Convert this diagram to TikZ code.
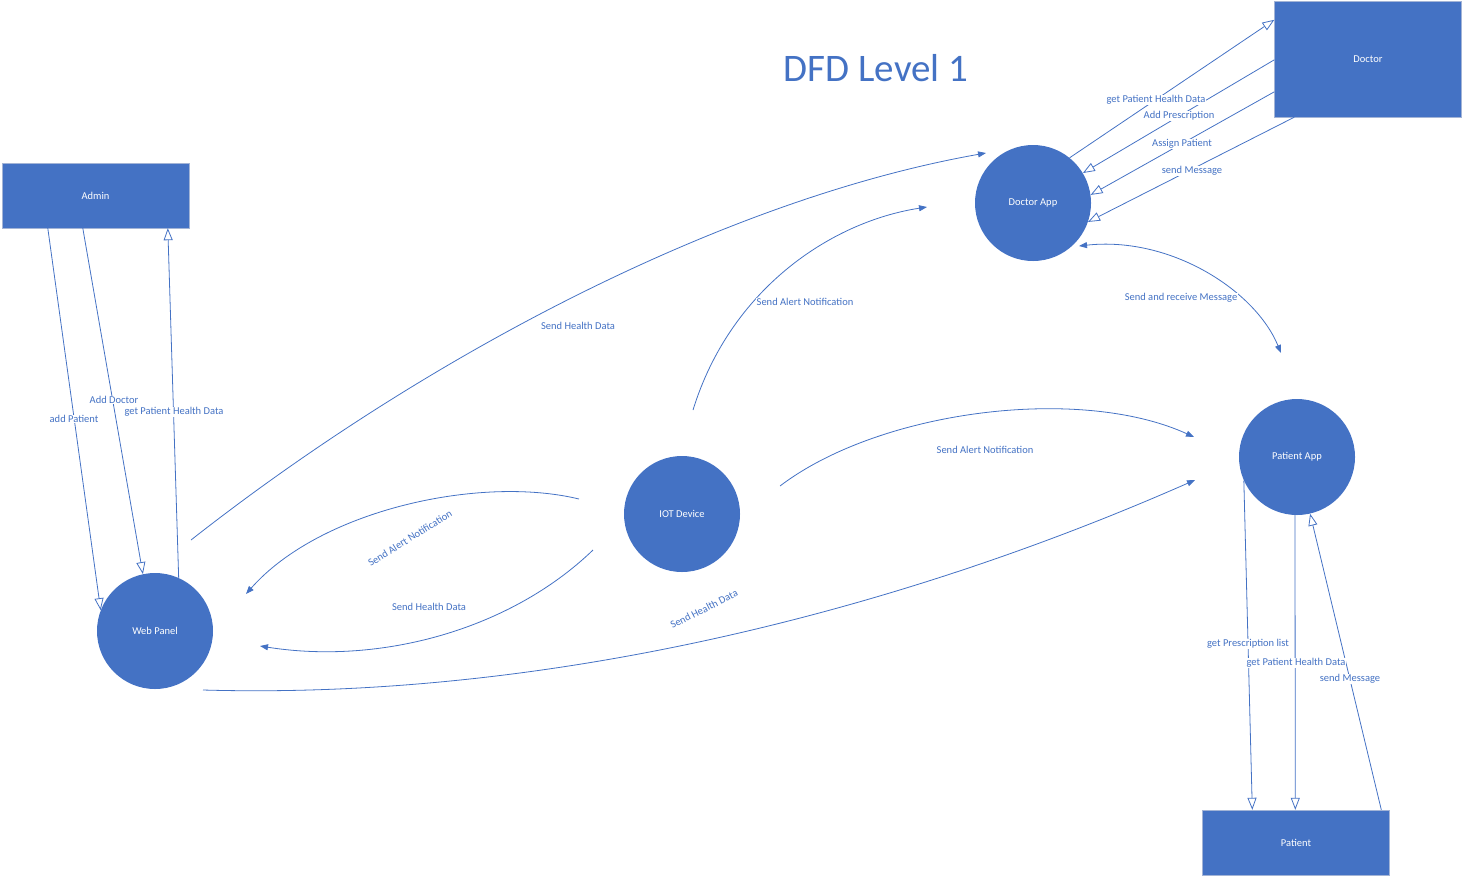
\documentclass[tikz,border=0pt]{standalone}
\usepackage{fontspec}
\setmainfont{Carlito}
\usetikzlibrary{arrows.meta}
\definecolor{dfdblue}{HTML}{4472C4}
\definecolor{dfdedge}{HTML}{A3B4D6}
\begin{document}
\begin{tikzpicture}[x=1pt,y=-1pt,
      entity/.style={draw=dfdedge, fill=dfdblue, text=white, inner sep=0pt, minimum width=187pt, font=\fontsize{10.5}{12}\selectfont},
      process/.style={circle, fill=dfdblue, text=white, minimum size=116pt, inner sep=0pt, font=\fontsize{10.5}{12}\selectfont},
      flow/.style={draw=dfdblue, line width=0.8pt, -{Triangle[open,length=12pt,width=9pt]}},
      dataflow/.style={draw=dfdblue, line width=0.8pt, -{Triangle[length=8pt,width=6pt]}},
      biflow/.style={draw=dfdblue, line width=0.8pt, {Triangle[length=8pt,width=6pt]}-{Triangle[length=8pt,width=6pt]}},
      lbl/.style={text=dfdblue, fill=white, inner sep=0.5pt, font=\fontsize{10.5}{12}\selectfont}
    ]
    \useasboundingbox (0,0) rectangle (1464,876);

    \node[entity, minimum height=65pt] (Admin) at (95.5,195.5) {Admin};
    \node[entity, minimum height=116pt] (Doctor) at (1368,59) {Doctor};
    \node[entity, minimum height=65pt] (Patient) at (1296,842.5) {Patient};
    \node[process] (DocApp) at (1033,203) {Doctor App};
    \node[process] (PatApp) at (1297,457) {Patient App};
    \node[process] (IoT) at (682,514) {IOT Device};
    \node[process] (Web) at (155,631) {Web Panel};

    \node[text=dfdblue, font=\fontsize{39}{44}\selectfont] (Title) at (876,68) {DFD Level 1};

    \coordinate (MsgA) at (1079,246);
    \coordinate (MsgB) at (1281,353);
    \coordinate (AlertDocS) at (693,410);
    \coordinate (AlertDocE) at (927,207);
    \coordinate (HealthDocS) at (191,540);
    \coordinate (HealthDocE) at (986,153);
    \coordinate (AlertPatS) at (780,486);
    \coordinate (AlertPatE) at (1194,437);
    \coordinate (HealthPatS) at (203,690);
    \coordinate (HealthPatE) at (1195,480);
    \coordinate (AlertWebS) at (579,499);
    \coordinate (AlertWebE) at (246,594);
    \coordinate (HealthWebS) at (593,550);
    \coordinate (HealthWebE) at (260,646);

    \draw[flow] ([xshift=46pt]Admin.south west) -- (Web.159);
    \draw[flow] ([xshift=81pt]Admin.south west) -- (Web.102);
    \draw[flow] (Web.66) -- ([xshift=166pt]Admin.south west);

    \draw[flow] (DocApp.51) -- ([yshift=-19pt]Doctor.north west);
    \draw[flow] ([yshift=-59pt]Doctor.north west) -- (DocApp.31);
    \draw[flow] ([yshift=-91pt]Doctor.north west) -- (DocApp.8);
    \draw[flow] ([xshift=20pt]Doctor.south west) -- (DocApp.-19);

    \draw[flow] (PatApp.204) -- ([xshift=50pt]Patient.north west);
    \draw[flow] (PatApp.268) -- ([xshift=93pt]Patient.north west);
    \draw[flow] ([xshift=179pt]Patient.north west) -- (PatApp.283);

    \draw[biflow] (MsgA) .. controls (1170,236) and (1255,290) .. (MsgB);
    \draw[dataflow] (AlertDocS) .. controls (730,290) and (830,222) .. (AlertDocE);
    \draw[dataflow] (HealthDocS) .. controls (420,360) and (720,200) .. (HealthDocE);
    \draw[dataflow] (AlertPatS) .. controls (880,410) and (1080,385) .. (AlertPatE);
    \draw[dataflow] (HealthPatS) .. controls (550,700) and (900,610) .. (HealthPatE);
    \draw[dataflow] (AlertWebS) .. controls (480,475) and (320,510) .. (AlertWebE);
    \draw[dataflow] (HealthWebS) .. controls (510,630) and (380,665) .. (HealthWebE);

    \node[lbl] (LAddPatient) at (74,419) {add Patient};
    \node[lbl] (LAddDoctor) at (114,400) {Add Doctor};
    \node[lbl] (LAdminData) at (174,412) {get Patient Health Data};
    \node[lbl] (LDocData) at (1156,100) {get Patient Health Data};
    \node[lbl] (LPrescription) at (1179,116) {Add Prescription};
    \node[lbl] (LAssign) at (1182,144) {Assign Patient};
    \node[lbl] (LDocMsg) at (1192,171) {send Message};
    \node[lbl] (LMsg) at (1181,298) {Send and receive Message};
    \node[lbl] (LAlertDoc) at (805,302) {Send Alert Notification};
    \node[lbl] (LHealthDoc) at (578,326) {Send Health Data};
    \node[lbl] (LAlertPat) at (985,450) {Send Alert Notification};
    \node[lbl, rotate=27] (LHealthPat) at (704,609) {Send Health Data};
    \node[lbl, rotate=32] (LAlertWeb) at (410,538) {Send Alert Notification};
    \node[lbl] (LHealthWeb) at (429,607) {Send Health Data};
    \node[lbl] (LPrescList) at (1248,644) {get Prescription list};
    \node[lbl] (LPatData) at (1296,663) {get Patient Health Data};
    \node[lbl] (LPatMsg) at (1350,679) {send Message};

\end{tikzpicture}
\end{document}
